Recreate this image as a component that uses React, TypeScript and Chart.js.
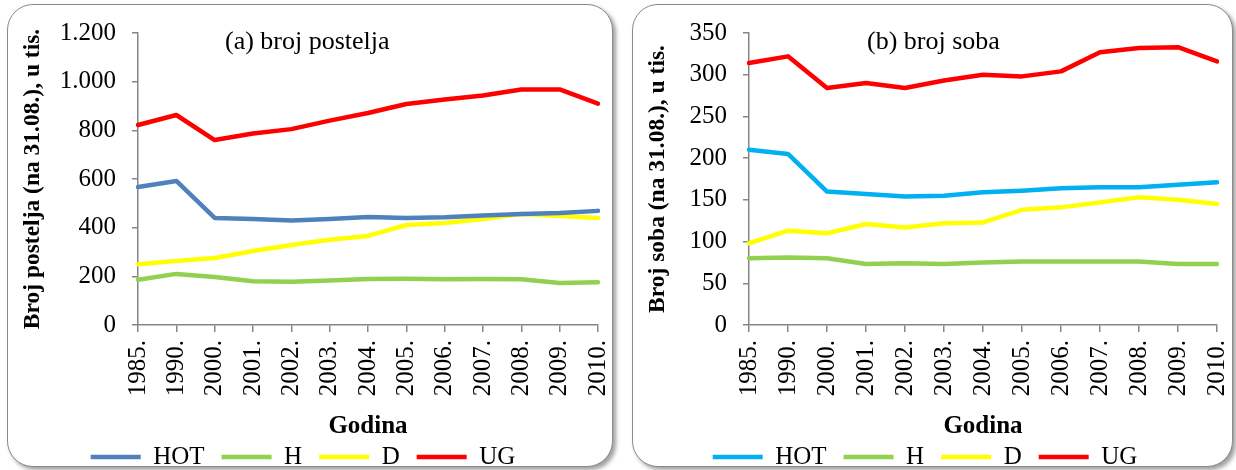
import React, { useEffect, useRef } from "react";
import { Chart, registerables } from "chart.js";

Chart.register(...registerables);

// ---------- data ----------
const years = ["1985.", "1990.", "2000.", "2001.", "2002.", "2003.", "2004.", "2005.", "2006.", "2007.", "2008.", "2009.", "2010."];
const seriesNames = ["HOT", "H", "D", "UG"];

const bedsHOT = [567, 592, 440, 436, 429, 436, 444, 440, 443, 450, 456, 460, 469];
const bedsH = [186, 210, 197, 180, 178, 183, 189, 190, 188, 189, 188, 173, 176];
const bedsD = [250, 263, 275, 304, 329, 350, 366, 411, 419, 436, 456, 448, 440];
const bedsUG = [822, 863, 760, 787, 805, 840, 871, 908, 927, 943, 968, 968, 910];

const roomsHOT = [210, 205, 160, 157, 154, 155, 159, 161, 164, 165, 165, 168, 171];
const roomsH = [80, 81, 80, 73, 74, 73, 75, 76, 76, 76, 76, 73, 73];
const roomsD = [98, 113, 110, 121, 117, 122, 123, 138, 141, 147, 153, 150, 145];
const roomsUG = [314, 322, 284, 290, 284, 293, 300, 298, 304, 327, 332, 333, 316];

const bedsTicksMax = 1200;
const bedsTicksStep = 200;
const roomsTicksMax = 350;
const roomsTicksStep = 50;

// ---------- styling ----------
const FONT = '"Liberation Serif", "Times New Roman", serif';
const AXIS = "#868686";

const fmt = (v: number) => String(v).replace(/\B(?=(\d{3})+(?!\d))/g, ".");

const innerTitle = {
  id: "innerTitle",
  afterDraw(chart: any, _args: any, opts: any) {
    const { ctx, chartArea } = chart;
    ctx.save();
    ctx.font = `26px ${FONT}`;
    ctx.fillStyle = "#000";
    ctx.textAlign = "left";
    ctx.textBaseline = "alphabetic";
    ctx.fillText(opts.text, chartArea.left + opts.dx, chartArea.top + opts.dy);
    ctx.restore();
  },
};

type PanelProps = {
  left: number;
  top: number;
  width: number;
  height: number;
  yWidth: number;
  yTitle: string;
  title: string;
  titleDx: number;
  max: number;
  step: number;
  data: number[][];
  colors: string[];
};

function ChartPanel(p: PanelProps) {
  const ref = useRef<HTMLCanvasElement | null>(null);
  useEffect(() => {
    if (!ref.current) return;
    const chart = new Chart(ref.current, {
      type: "line",
      data: {
        labels: years,
        datasets: seriesNames.map((name, i) => ({
          label: name,
          data: p.data[i],
          borderColor: p.colors[i],
          backgroundColor: p.colors[i],
          borderWidth: 4.5,
          pointRadius: 0,
          pointHoverRadius: 0,
          pointStyle: "line",
          borderCapStyle: "round",
          borderJoinStyle: "round",
          tension: 0,
          fill: false,
        })),
      },
      options: {
        responsive: false,
        animation: false,
        layout: { padding: { top: 28, right: 14, bottom: 0, left: 0 } },
        plugins: {
          legend: {
            position: "bottom",
            maxHeight: 39.5,
            labels: {
              usePointStyle: true,
              pointStyleWidth: 50,
              padding: 17,
              color: "#000",
              font: { family: FONT, size: 25 },
            },
          },
          tooltip: { enabled: false },
          innerTitle: { text: p.title, dx: p.titleDx, dy: 16 },
        } as any,
        scales: {
          x: {
            offset: false,
            grid: {
              display: true,
              drawOnChartArea: false,
              drawTicks: true,
              tickLength: 7,
              color: AXIS,
              lineWidth: 1.5,
            },
            border: { display: true, color: AXIS, width: 1.5 },
            ticks: {
              autoSkip: false,
              maxRotation: 90,
              minRotation: 90,
              padding: 8,
              color: "#000",
              font: { family: FONT, size: 25 },
            },
            title: {
              display: true,
              text: "Godina",
              color: "#000",
              font: { family: FONT, size: 25, weight: "bold" },
              padding: { top: 0, bottom: -14 },
            },
            afterFit: (s: any) => {
              s.height = 102.5;
              s.paddingLeft = 0;
              s.paddingRight = 0;
            },
          } as any,
          y: {
            min: 0,
            max: p.max,
            grid: {
              display: true,
              drawOnChartArea: false,
              drawTicks: true,
              tickLength: 6,
              color: AXIS,
              lineWidth: 1.5,
            },
            border: { display: true, color: AXIS, width: 1.5 },
            ticks: {
              stepSize: p.step,
              padding: 16,
              color: "#000",
              font: { family: FONT, size: 25 },
              callback: (v: any) => fmt(Number(v)),
            },
            title: {
              display: true,
              text: p.yTitle,
              color: "#000",
              font: { family: FONT, size: 23.5, weight: "bold" },
              padding: { top: 11, bottom: 0 },
            },
            afterFit: (s: any) => {
              s.width = p.yWidth;
              s.paddingTop = 0;
              s.paddingBottom = 0;
            },
          } as any,
        },
      },
      plugins: [innerTitle as any],
    });
    return () => chart.destroy();
  }, []);
  return (
    <canvas
      ref={ref}
      width={p.width}
      height={p.height}
      style={{ position: "absolute", left: p.left, top: p.top, width: p.width, height: p.height }}
    />
  );
}

const panelStyle = (left: number, width: number): React.CSSProperties => ({
  position: "absolute",
  left,
  top: 4,
  width,
  height: 463,
  boxSizing: "border-box",
  border: "1.5px solid #8a8a8a",
  borderRadius: 26,
  background: "#fff",
  boxShadow: "3px 3px 4px rgba(0,0,0,0.38)",
});

export default function App() {
  return (
    <div
      style={{
        position: "fixed",
        left: 0,
        top: 0,
        width: 1236,
        height: 470,
        background: "#fff",
        overflow: "hidden",
      }}
    >
      <div style={panelStyle(7, 606)} />
      <div style={panelStyle(632, 601)} />
      <ChartPanel
        left={8}
        top={5}
        width={604}
        height={462}
        yWidth={130}
        yTitle="Broj postelja (na 31.08.), u tis."
        title="(a) broj postelja"
        titleDx={87}
        max={bedsTicksMax}
        step={bedsTicksStep}
        data={[bedsHOT, bedsH, bedsD, bedsUG]}
        colors={["#4F81BD", "#92D050", "#FFFF00", "#FF0000"]}
      />
      <ChartPanel
        left={633}
        top={5}
        width={598}
        height={462}
        yWidth={116}
        yTitle="Broj soba (na 31.08.), u tis."
        title="(b) broj soba"
        titleDx={118}
        max={roomsTicksMax}
        step={roomsTicksStep}
        data={[roomsHOT, roomsH, roomsD, roomsUG]}
        colors={["#00B0F0", "#92D050", "#FFFF00", "#FF0000"]}
      />
    </div>
  );
}
